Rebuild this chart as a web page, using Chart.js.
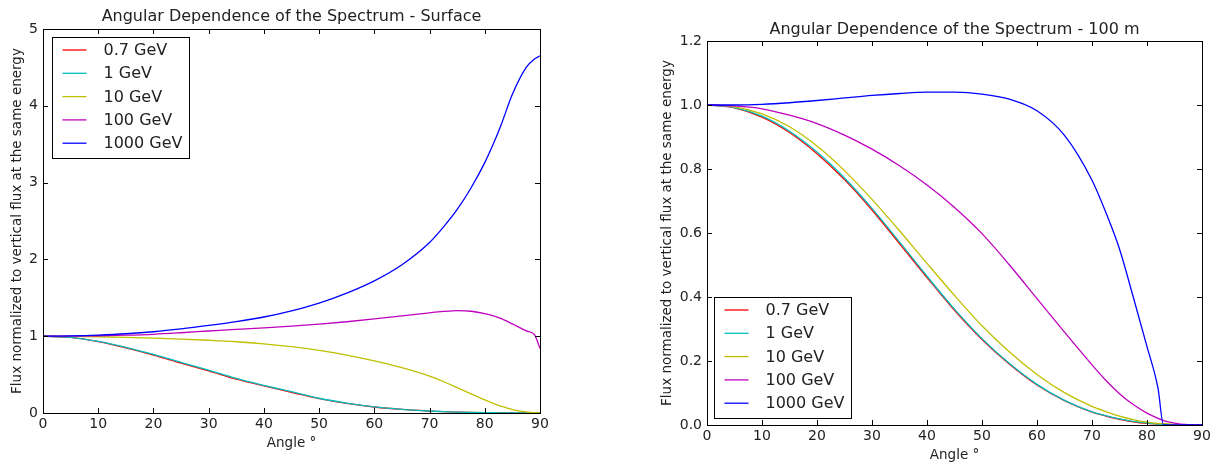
<!DOCTYPE html>
<html>
<head>
<meta charset="utf-8">
<script src="https://cdn.jsdelivr.net/npm/chart.js@4"></script>
<style>
  html, body { margin: 0; padding: 0; background: #fff; }
  #left { position: absolute; left: 0; top: 0; }
  #right { position: absolute; left: 620px; top: 0; }
</style>
</head>
<body>
<canvas id="left" width="620" height="464"></canvas>
<canvas id="right" width="596" height="464"></canvas>
<script>
// DATA
const angles = [0, 5, 10, 15, 20, 25, 30, 35, 40, 45, 50, 55, 60, 65, 70, 72.5, 75, 77.5, 80, 82, 83, 85, 87.5, 89, 90];
const energies = ['0.7 GeV', '1 GeV', '10 GeV', '100 GeV', '1000 GeV'];
const xTicks = [0, 10, 20, 30, 40, 50, 60, 70, 80, 90];
const surfaceYTicks = [0, 1, 2, 3, 4, 5];
const deepYTicks = [0, 0.2, 0.4, 0.6, 0.8, 1.0, 1.2];

// surface
const surf07 = [1, 0.984, 0.928, 0.848, 0.755, 0.65, 0.548, 0.44, 0.352, 0.27, 0.186, 0.125, 0.078, 0.046, 0.025, 0.017, 0.011, 0.007, 0.004, 0.003, 0.002, 0.001, 0, 0, 0];
const surf1 = [1, 0.985, 0.932, 0.855, 0.763, 0.66, 0.558, 0.45, 0.36, 0.277, 0.192, 0.129, 0.08, 0.048, 0.026, 0.018, 0.012, 0.008, 0.005, 0.003, 0.002, 0.001, 0, 0, 0];
const surf10 = [1, 0.998, 0.993, 0.985, 0.975, 0.962, 0.947, 0.928, 0.9, 0.863, 0.815, 0.755, 0.68, 0.59, 0.48, 0.41, 0.33, 0.25, 0.17, 0.112, 0.087, 0.045, 0.014, 0.003, 0];
const surf100 = [1, 1.002, 1.006, 1.013, 1.025, 1.045, 1.068, 1.09, 1.108, 1.13, 1.157, 1.188, 1.225, 1.265, 1.305, 1.322, 1.332, 1.325, 1.295, 1.255, 1.228, 1.16, 1.07, 1.02, 0.84];
const surf1000 = [1, 1.004, 1.015, 1.032, 1.058, 1.095, 1.14, 1.19, 1.25, 1.33, 1.43, 1.56, 1.72, 1.93, 2.22, 2.42, 2.65, 2.93, 3.26, 3.58, 3.76, 4.15, 4.5, 4.61, 4.65];

// 100 m
const deep07 = [1, 0.991, 0.962, 0.914, 0.848, 0.767, 0.672, 0.567, 0.461, 0.358, 0.267, 0.19, 0.125, 0.076, 0.04, 0.028, 0.018, 0.01, 0.005, 0.003, 0.002, 0.001, 0, 0, 0];
const deep1 = [1, 0.992, 0.965, 0.918, 0.853, 0.772, 0.677, 0.572, 0.465, 0.362, 0.27, 0.192, 0.127, 0.077, 0.041, 0.029, 0.019, 0.011, 0.006, 0.003, 0.002, 0.001, 0, 0, 0];
const deep10 = [1, 0.994, 0.972, 0.932, 0.872, 0.795, 0.705, 0.607, 0.505, 0.405, 0.31, 0.228, 0.158, 0.101, 0.058, 0.042, 0.028, 0.017, 0.009, 0.005, 0.004, 0.002, 0.0005, 0, 0];
const deep100 = [1, 0.997, 0.988, 0.968, 0.942, 0.906, 0.862, 0.81, 0.75, 0.68, 0.598, 0.5, 0.395, 0.29, 0.188, 0.14, 0.098, 0.064, 0.037, 0.021, 0.014, 0.006, 0.001, 0, 0];
const deep1000 = [1, 1, 1.002, 1.007, 1.014, 1.022, 1.03, 1.036, 1.04, 1.04, 1.034, 1.018, 0.982, 0.905, 0.765, 0.665, 0.55, 0.4, 0.245, 0.115, 0, 0, 0, 0, 0];

const colors = ['#ff0000', '#00bfbf', '#bfbf00', '#bf00bf', '#0000ff'];

Chart.defaults.font.family = "'DejaVu Sans', sans-serif";
Chart.defaults.color = '#222';

function makeSets(series) {
  return series.map((vals, i) => ({
    label: energies[i],
    data: vals.map((v, j) => ({ x: angles[j], y: v })),
    borderColor: colors[i],
    borderWidth: 1.3,
    pointRadius: 0,
    fill: false,
    cubicInterpolationMode: 'monotone',
    order: series.length - 1 - i
  }));
}

// box around the plot with inward ticks on all four sides
const frame = {
  id: 'frame',
  afterDatasetsDraw(chart) {
    const { ctx, chartArea: a, scales: { x, y } } = chart;
    const t = 5;
    ctx.save();
    ctx.strokeStyle = '#000';
    ctx.lineWidth = 1;
    ctx.beginPath();
    x.ticks.forEach(tk => {
      const px = Math.round(x.getPixelForValue(tk.value)) + 0.5;
      ctx.moveTo(px, a.bottom); ctx.lineTo(px, a.bottom - t);
      ctx.moveTo(px, a.top); ctx.lineTo(px, a.top + t);
    });
    y.ticks.forEach(tk => {
      const py = Math.round(y.getPixelForValue(tk.value)) + 0.5;
      ctx.moveTo(a.left, py); ctx.lineTo(a.left + t, py);
      ctx.moveTo(a.right, py); ctx.lineTo(a.right - t, py);
    });
    ctx.stroke();
    ctx.strokeRect(Math.round(a.left) + 0.5, Math.round(a.top) + 0.5,
      Math.round(a.right) - Math.round(a.left), Math.round(a.bottom) - Math.round(a.top));
    ctx.restore();
  }
};

// matplotlib style legend inside the plot
const boxLegend = {
  id: 'boxLegend',
  afterDraw(chart, args, opts) {
    const { ctx, chartArea: a } = chart;
    const sets = chart.data.datasets;
    const w = 137, h = 121, row = 23.3;
    const left = Math.round(a.left + opts.dx) + 0.5;
    const top = Math.round(opts.corner === 'top' ? a.top + opts.dy : a.bottom - opts.dy - h) + 0.5;
    ctx.save();
    ctx.fillStyle = '#fff';
    ctx.fillRect(left, top, w, h);
    ctx.strokeStyle = '#000';
    ctx.lineWidth = 1;
    ctx.strokeRect(left, top, w, h);
    ctx.font = "16px 'DejaVu Sans'";
    ctx.textBaseline = 'middle';
    sets.forEach((ds, i) => {
      const cy = top + 12.5 + i * row;
      ctx.strokeStyle = ds.borderColor;
      ctx.lineWidth = 1.3;
      ctx.beginPath();
      ctx.moveTo(left + 10, cy); ctx.lineTo(left + 34, cy);
      ctx.stroke();
      ctx.fillStyle = '#222';
      ctx.fillText(ds.label, left + 51, cy + 1);
    });
    ctx.restore();
  }
};

function makeChart(id, cfg) {
  return new Chart(document.getElementById(id), {
    type: 'line',
    data: { datasets: makeSets(cfg.series) },
    options: {
      responsive: false,
      animation: false,
      layout: { padding: { left: 0, right: cfg.padRight, top: 0, bottom: 0 } },
      plugins: {
        legend: { display: false },
        tooltip: { enabled: false },
        title: {
          display: true, text: cfg.title, fullSize: false, color: '#222',
          font: { size: 16, weight: 'normal' },
          padding: { top: cfg.titleTop, bottom: cfg.titleBottom }
        },
        boxLegend: { corner: cfg.legendCorner, dx: cfg.legendDx, dy: cfg.legendDy }
      },
      scales: {
        x: {
          type: 'linear', min: 0, max: 90,
          afterBuildTicks: s => { s.ticks = xTicks.map(v => ({ value: v })); },
          afterFit: s => { s.height = cfg.xHeight; },
          grid: { display: false, drawTicks: false },
          border: { display: false },
          ticks: { padding: 3, font: { size: 14 }, color: '#222' },
          title: { display: true, text: 'Angle °', color: '#222', font: { size: 13.5 }, padding: { top: 0, bottom: cfg.xTitlePad } }
        },
        y: {
          type: 'linear', min: 0, max: cfg.yMax,
          afterBuildTicks: s => { s.ticks = cfg.yTicks.map(v => ({ value: v })); },
          afterFit: s => { s.width = cfg.yWidth; },
          grid: { display: false, drawTicks: false },
          border: { display: false },
          ticks: { padding: 5, font: { size: 14 }, color: '#222', callback: cfg.yFormat },
          title: { display: true, text: 'Flux normalized to vertical flux at the same energy', color: '#222', font: { size: 13.5 }, padding: { top: cfg.yTitlePad, bottom: 0 } }
        }
      }
    },
    plugins: [frame, boxLegend]
  });
}

makeChart('left', {
  series: [surf07, surf1, surf10, surf100, surf1000],
  title: 'Angular Dependence of the Spectrum - Surface',
  titleTop: 7.4, titleBottom: 2.4,
  padRight: 80, xHeight: 51, xTitlePad: 12.9, yWidth: 43, yTitlePad: 8.9,
  yMax: 5, yTicks: surfaceYTicks, yFormat: v => String(v),
  legendCorner: 'top', legendDx: 9, legendDy: 8
});

makeChart('right', {
  series: [deep07, deep1, deep10, deep100, deep1000],
  title: 'Angular Dependence of the Spectrum - 100 m',
  titleTop: 20, titleBottom: 1.8,
  padRight: 14, xHeight: 39, xTitlePad: 0, yWidth: 87, yTitlePad: 38.9,
  yMax: 1.2, yTicks: deepYTicks, yFormat: v => v.toFixed(1),
  legendCorner: 'bottom', legendDx: 7, legendDy: 7
});
</script>
</body>
</html>
